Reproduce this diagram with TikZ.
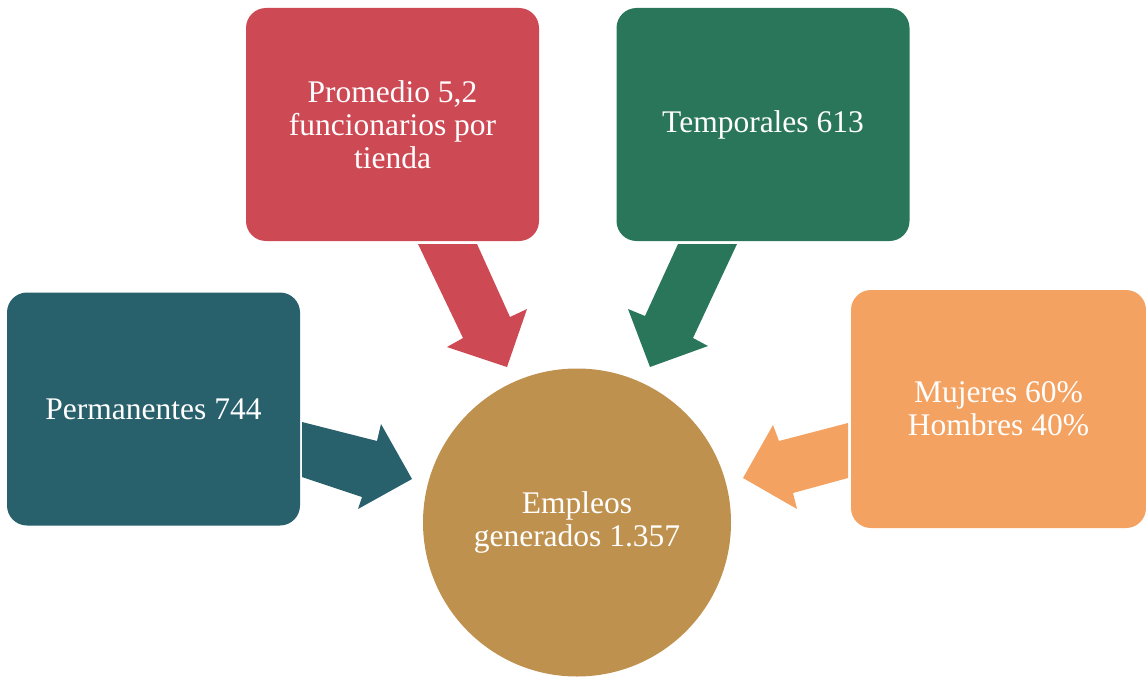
\documentclass[tikz,border=0pt]{standalone}
\usepackage{fontspec}
\setmainfont{Liberation Serif}
\definecolor{cteal}{RGB}{40,96,108}
\definecolor{cred}{RGB}{205,74,85}
\definecolor{cgreen}{RGB}{42,118,90}
\definecolor{corange}{RGB}{244,162,97}
\definecolor{cgold}{RGB}{191,145,78}
\tikzset{
  box/.style={rectangle, rounded corners=20pt, minimum width=293pt, minimum height=233pt,
    inner sep=0pt, text=white, align=center, font=\fontsize{31.5}{33}\selectfont},
  hub/.style={circle, minimum size=308pt, inner sep=0pt, fill=cgold, text=white,
    align=center, font=\fontsize{31.5}{33}\selectfont},
}
\begin{document}
\begin{tikzpicture}[x=1pt,y=-1pt]
\useasboundingbox (0,0) rectangle (1146,677);
\node[hub] (c) at (577,522.5) {Empleos\\generados 1.357};
\node[box, fill=cteal] (p) at (153.5,409) {Permanentes 744};
\node[box, fill=cred] (r) at (392.5,124.5) {Promedio 5,2\\funcionarios por\\tienda};
\node[box, fill=cgreen] (t) at (763,124.5) {Temporales 613};
\node[box, fill=corange, minimum width=295pt, minimum height=238pt] (m) at (998.5,409) {Mujeres 60\%\\Hombres 40\%};
% block arrows
\fill[cteal] (302,422) -- (377,441) -- (381,424) -- (412,479) -- (358,509) -- (362,497) -- (302,477) -- cycle;
\fill[cred] (418,244) -- (477,244) -- (510,317) -- (527,309) -- (507,367) -- (447,347) -- (463,338) -- cycle;
\fill[cgreen] (678,244) -- (737,244) -- (693,338) -- (708,346) -- (650,367) -- (628,309) -- (645,316) -- cycle;
\fill[corange] (848,423) -- (779,441) -- (773,425) -- (743,478) -- (797,509) -- (793,493) -- (848,478) -- cycle;
\end{tikzpicture}
\end{document}
